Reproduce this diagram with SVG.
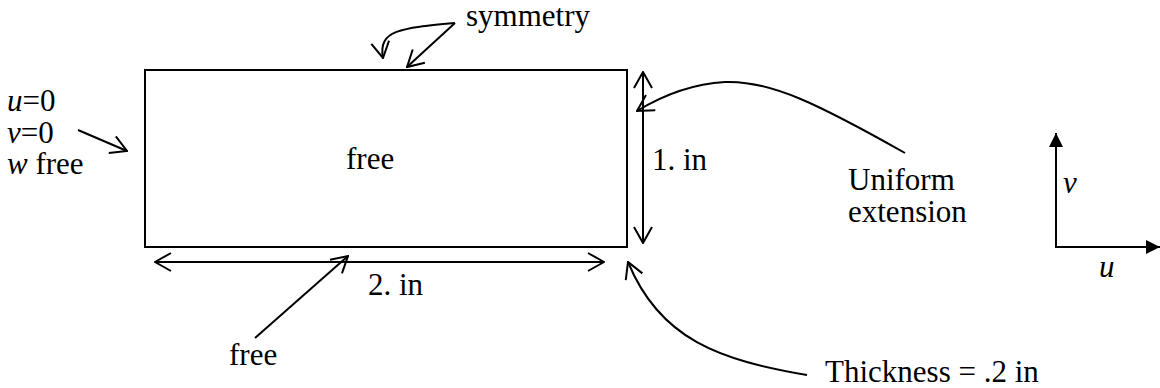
<svg xmlns="http://www.w3.org/2000/svg" width="1160" height="388" viewBox="0 0 1160 388">
<style>
text{font-family:'Liberation Serif',serif;font-size:31px;fill:#000}
.it{font-style:italic}
.ln{fill:none;stroke:#000;stroke-width:2}
.open{marker-end:url(#open)}
.dbl{marker-start:url(#open);marker-end:url(#open)}
.ax{marker-end:url(#solid)}
</style>
<defs>
<marker id="open" viewBox="0 0 18 20" refX="17" refY="10" markerWidth="18" markerHeight="20" markerUnits="userSpaceOnUse" orient="auto-start-reverse">
<path d="M1,1 L17,10 L1,19" fill="none" stroke="#000" stroke-width="2"/>
</marker>
<marker id="solid" viewBox="0 0 14 14" refX="14" refY="7" markerWidth="14" markerHeight="14" markerUnits="userSpaceOnUse" orient="auto">
<path d="M0,0 L14,7 L0,14 Z" fill="#000"/>
</marker>
</defs>
<rect width="1160" height="388" fill="#fff"/>
<g font-family="Liberation Serif, serif" font-size="31">
<g id="plate">
<rect x="145" y="70" width="482" height="177" fill="none" stroke="#000" stroke-width="2"/>
<text x="346" y="169">free</text>
</g>
<g id="label-symmetry"><text x="466" y="26">symmetry</text></g>
<g id="label-left">
<text x="7" y="111"><tspan class="it">u</tspan>=0</text>
<text x="7" y="143"><tspan class="it">v</tspan>=0</text>
<text x="7" y="174"><tspan class="it">w</tspan> free</text>
</g>
<g id="label-height"><text x="652" y="170">1. in</text></g>
<g id="label-uniform">
<text x="848" y="190">Uniform</text>
<text x="848" y="222">extension</text>
</g>
<g id="label-width"><text x="368" y="295">2. in</text></g>
<g id="label-free-bottom"><text x="229" y="365">free</text></g>
<g id="label-thickness"><text x="825" y="382">Thickness = .2 in</text></g>
<g id="axes">
<text class="it" x="1063" y="193">v</text>
<text class="it" x="1099" y="277">u</text>
</g>
</g>
<g id="connectors">
<path class="ln open" d="M455,23 C400,28 378,30 383,58"/>
<path class="ln open" d="M455,23 L407,67"/>
<path class="ln open" d="M78,130 L127,151"/>
<path class="ln dbl" d="M643,72 L643,243"/>
<path class="ln dbl" d="M155,262 L604,262"/>
<path class="ln open" d="M255,338 L348,256"/>
<path class="ln open" d="M905,153 C820,105 770,80 725,82 C690,84 660,97 637,111"/>
<path class="ln open" d="M807,375 C720,360 660,340 628,262"/>
<path class="ln ax" d="M1056,248 L1056,133"/>
<path class="ln ax" d="M1055,247 L1160,247"/>
</g>
</svg>
